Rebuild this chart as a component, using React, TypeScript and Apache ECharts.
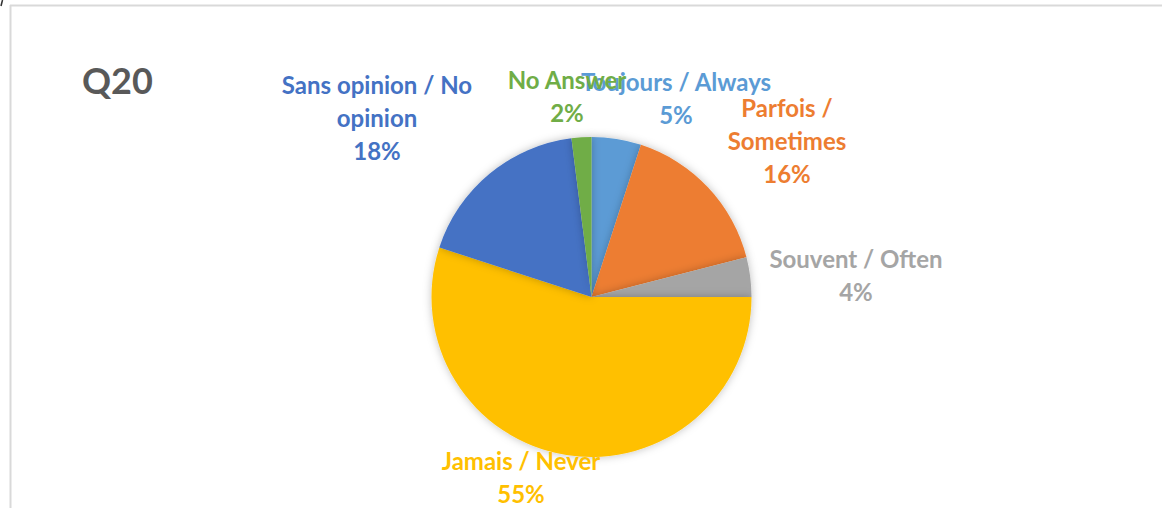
import React, { useEffect, useRef } from "react";
import * as echarts from "echarts";

const categories = [
  "Toujours / Always",
  "Parfois /\nSometimes",
  "Souvent / Often",
  "Jamais / Never",
  "Sans opinion / No\nopinion",
  "No Answer",
];
const values = [5, 16, 4, 55, 18, 2];
const colors = ["#5B9BD5", "#ED7D31", "#A5A5A5", "#FFC000", "#4472C4", "#70AD47"];
const labelPositions: [number, number][] = [
  [676, 98],
  [787, 140],
  [856, 275],
  [521, 477],
  [377, 117],
  [567, 96],
];
const title = "Q20";

export default function App() {
  const ref = useRef<HTMLDivElement>(null);
  useEffect(() => {
    if (!ref.current) return;
    const chart = echarts.init(ref.current, null, { renderer: "svg" });
    chart.setOption({
      animation: false,
      backgroundColor: "#ffffff",
      graphic: [
        { type: "line", shape: { x1: 10, y1: 5.5, x2: 1162, y2: 5.5 }, style: { stroke: "#d9d9d9", lineWidth: 2 } },
        { type: "line", shape: { x1: 10.5, y1: 5, x2: 10.5, y2: 508 }, style: { stroke: "#d9d9d9", lineWidth: 2 } },
        { type: "line", shape: { x1: 2.5, y1: 0, x2: 1, y2: 6 }, style: { stroke: "#333", lineWidth: 1.5 } },
        {
          type: "text",
          x: 82,
          y: 80,
          style: {
            text: title,
            fill: "#595959",
            font: "bold 36px Lato",
            verticalAlign: "middle",
            align: "left",
          },
        },
      ],
      series: [
        {
          type: "pie",
          center: [591.5, 297],
          radius: 160,
          startAngle: 90,
          clockwise: true,
          avoidLabelOverlap: false,
          data: categories.map((c, i) => ({
            name: c,
            value: values[i],
            itemStyle: { color: colors[i] },
            label: { color: colors[i] },
          })),
          itemStyle: {
            borderWidth: 0,
            shadowBlur: 8,
            shadowColor: "rgba(0,0,0,0.25)",
          },
          label: {
            show: true,
            position: "outside",
            formatter: (p: any) => `${p.name}\n${Math.round(p.percent)}%`,
            fontFamily: "Lato",
            fontWeight: "bold",
            fontSize: 24,
            lineHeight: 33,
            align: "center",
          },
          labelLine: { show: false },
          labelLayout: (params: any) => {
            const pos = labelPositions[params.dataIndex];
            return { x: pos[0], y: pos[1], align: "center", verticalAlign: "middle" };
          },
          emphasis: { disabled: true },
        },
      ],
    });
    return () => chart.dispose();
  }, []);
  return (
    <div
      ref={ref}
      style={{ position: "fixed", left: 0, top: 0, width: 1162, height: 508 }}
    />
  );
}
